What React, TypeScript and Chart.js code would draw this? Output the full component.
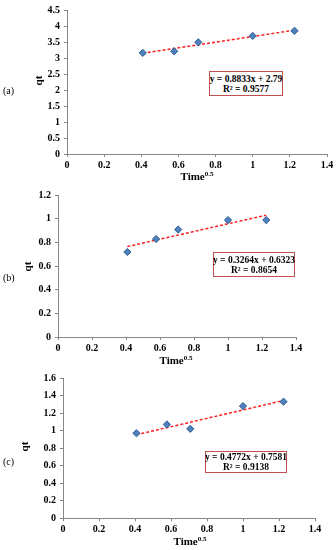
import React, { useEffect, useRef } from "react";
import { Chart, registerables } from "chart.js";
Chart.register(...registerables);

// ---- data ----
const timeSqrt = [0.408, 0.577, 0.707, 1.0, 1.225];
const qtA = [3.16, 3.21, 3.49, 3.69, 3.85];
const qtB = [0.72, 0.83, 0.91, 0.99, 0.99];
const qtC = [0.97, 1.07, 1.02, 1.28, 1.33];
const trendX = [0.408, 1.225];
const trendA = [3.15, 3.872];
const trendB = [0.766, 1.032];
const trendC = [0.953, 1.343];
const xTicks = [0, 0.2, 0.4, 0.6, 0.8, 1, 1.2, 1.4];
const yTicksA = [0, 0.5, 1, 1.5, 2, 2.5, 3, 3.5, 4, 4.5];
const yTicksB = [0, 0.2, 0.4, 0.6, 0.8, 1, 1.2];
const yTicksC = [0, 0.2, 0.4, 0.6, 0.8, 1, 1.2, 1.4, 1.6];
const panelLabels = ["(a)", "(b)", "(c)"];
const equations = ["y = 0.8833x + 2.79", "y = 0.3264x + 0.6323", "y = 0.4772x + 0.7581"];
const r2Labels = ["R² = 0.9577", "R² = 0.8654", "R² = 0.9138"];
const xTitle = "Time";
const xTitleSup = "0.5";
const yTitle = "qt";

const FONT = "'Liberation Serif', 'Times New Roman', serif";
const AXIS = "#868686";

type Layout = {
  canvasTop: number;
  canvasH: number;
  left: number;
  right: number;
  top: number;
  bottom: number;
  labelY: number;
  qtX: number;
  qtY: number;
  titleX: number;
  titleY: number;
  box: { left: number; top: number; w: number; h: number };
};

const layouts: Layout[] = [
  { canvasTop: 0, canvasH: 180, left: 67, right: 327, top: 7.3, bottom: 154, labelY: 92, qtX: 38, qtY: 81, titleX: 197, titleY: 177, box: { left: 209, top: 71, w: 74, h: 25 } },
  { canvasTop: 185, canvasH: 180, left: 58, right: 296, top: 195.3, bottom: 337, labelY: 279, qtX: 27, qtY: 267, titleX: 176, titleY: 361, box: { left: 213, top: 252, w: 82, h: 25 } },
  { canvasTop: 368, canvasH: 180, left: 63, right: 315, top: 377.7, bottom: 518.3, labelY: 463, qtX: 24, qtY: 447, titleX: 190, titleY: 542, box: { left: 205, top: 451, w: 82, h: 22 } },
];

const series = [
  { qt: qtA, trend: trendA, yTicks: yTicksA },
  { qt: qtB, trend: trendB, yTicks: yTicksB },
  { qt: qtC, trend: trendC, yTicks: yTicksC },
];

function Panel({ idx }: { idx: number }) {
  const ref = useRef<HTMLCanvasElement | null>(null);
  const L = layouts[idx];
  const S = series[idx];
  useEffect(() => {
    if (!ref.current) return;
    const xAxisH = 20;
    const top = L.top - L.canvasTop;
    const bottom = L.bottom - L.canvasTop;
    const yMax = S.yTicks[S.yTicks.length - 1];
    const chart = new Chart(ref.current, {
      type: "scatter",
      data: {
        datasets: [
          {
            type: "scatter",
            data: timeSqrt.map((x, i) => ({ x, y: S.qt[i] })),
            pointStyle: "rectRot",
            pointRadius: 3.6,
            backgroundColor: "#4f81bd",
            borderColor: "#2f5c94",
            borderWidth: 1,
          } as any,
          {
            type: "line",
            data: trendX.map((x, i) => ({ x, y: S.trend[i] })),
            borderColor: "#ff2020",
            borderWidth: 1.5,
            borderDash: [3, 2],
            pointRadius: 0,
            fill: false,
          } as any,
        ],
      },
      options: {
        responsive: false,
        animation: false,
        maintainAspectRatio: false,
        layout: {
          padding: {
            left: 0,
            right: 336 - L.right,
            top: top,
            bottom: L.canvasH - bottom - xAxisH,
          },
        },
        plugins: { legend: { display: false }, tooltip: { enabled: false } },
        scales: {
          x: {
            type: "linear",
            min: 0,
            max: 1.4,
            afterBuildTicks: (s: any) => {
              s.ticks = xTicks.map((v) => ({ value: v }));
            },
            afterFit: (s: any) => {
              s.height = xAxisH;
            },
            grid: { drawOnChartArea: false, drawTicks: true, tickLength: 3, color: AXIS },
            border: { color: AXIS, width: 1 },
            ticks: {
              color: "#000",
              font: { family: FONT, size: 10, weight: "bold" },
              padding: 2,
              maxRotation: 0,
              autoSkip: false,
              callback: (v: any) => String(v),
            },
          },
          y: {
            type: "linear",
            min: 0,
            max: yMax,
            afterBuildTicks: (s: any) => {
              s.ticks = S.yTicks.map((v) => ({ value: v }));
            },
            afterFit: (s: any) => {
              s.width = L.left;
            },
            grid: { drawOnChartArea: false, drawTicks: true, tickLength: 3, color: AXIS },
            border: { color: AXIS, width: 1 },
            ticks: {
              color: "#000",
              font: { family: FONT, size: 10, weight: "bold" },
              padding: 4,
              autoSkip: false,
              callback: (v: any) => String(v),
            },
          },
        },
      } as any,
    });
    return () => chart.destroy();
  }, [idx]);

  const txt: React.CSSProperties = { position: "absolute", fontFamily: FONT, color: "#000", whiteSpace: "nowrap", lineHeight: 1 };
  return (
    <>
      <canvas
        ref={ref}
        width={336}
        height={L.canvasH}
        style={{ position: "absolute", left: 0, top: L.canvasTop, width: 336, height: L.canvasH, display: "block" }}
      />
      <div style={{ ...txt, left: 3, top: L.labelY - 6, fontSize: 10 }}>{panelLabels[idx]}</div>
      <div
        style={{
          ...txt,
          left: L.qtX - 10,
          top: L.qtY - 6,
          width: 20,
          textAlign: "center",
          fontSize: 11,
          fontWeight: "bold",
          transform: "rotate(-90deg)",
        }}
      >
        {yTitle}
      </div>
      <div
        style={{
          ...txt,
          left: L.titleX - 40,
          top: L.titleY - 6,
          width: 80,
          textAlign: "center",
          fontSize: 11,
          fontWeight: "bold",
        }}
      >
        {xTitle}
        <sup style={{ fontSize: 7, verticalAlign: "4px" }}>{xTitleSup}</sup>
      </div>
      <div
        style={{
          ...txt,
          left: L.box.left,
          top: L.box.top,
          width: L.box.w,
          height: L.box.h,
          boxSizing: "border-box",
          border: "1px solid #c0504d",
          background: "#fff",
          display: "flex",
          flexDirection: "column",
          justifyContent: "center",
          alignItems: "center",
          fontSize: 9.5,
          fontWeight: "bold",
          lineHeight: "10px",
        }}
      >
        <div>{equations[idx]}</div>
        <div>{r2Labels[idx]}</div>
      </div>
    </>
  );
}

export default function App() {
  return (
    <div style={{ position: "absolute", left: 0, top: 0, width: 336, height: 550, background: "#fff", overflow: "hidden" }}>
      <Panel idx={0} />
      <Panel idx={1} />
      <Panel idx={2} />
    </div>
  );
}
